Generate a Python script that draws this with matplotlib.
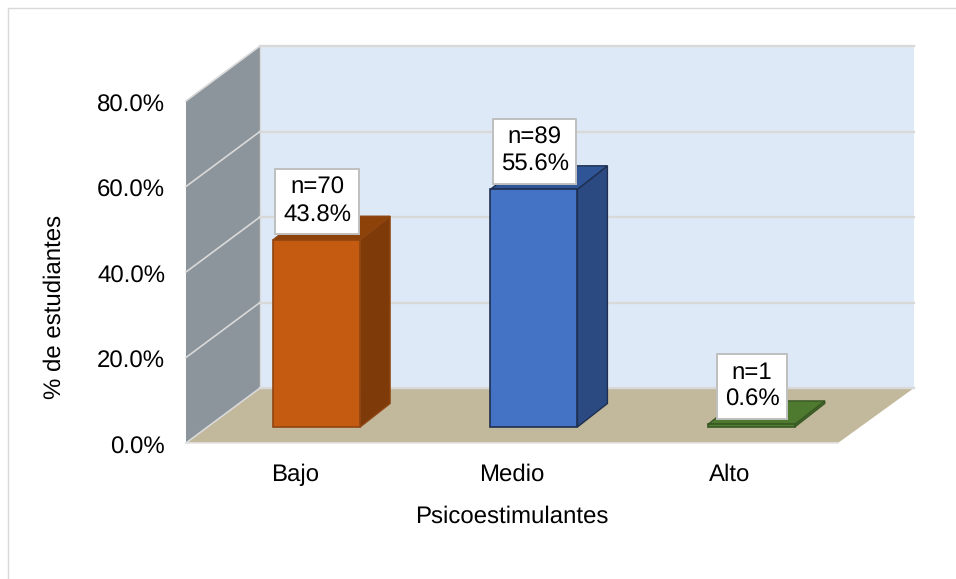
import matplotlib
matplotlib.use("Agg")
import matplotlib.pyplot as plt
from matplotlib.lines import Line2D
from matplotlib.patches import Polygon
from matplotlib.transforms import ScaledTranslation

plt.rcParams["font.family"] = ["Liberation Sans", "DejaVu Sans"]
plt.rcParams["text.hinting"] = "no_hinting"
plt.rcParams["text.hinting_factor"] = 1

categorias = ["Bajo", "Medio", "Alto"]
porcentajes = [43.8, 55.6, 0.6]
conteos = [70, 89, 1]
ticks_y = [0, 20, 40, 60, 80]

W, H = 956, 579
FS = 17

# colores: frente, lateral, tapa, borde
colores = [
    ("#C55A11", "#7F3A0A", "#8C4209", "#8F4510"),
    ("#4472C4", "#2B4A82", "#2F5597", "#1F2F4F"),
    ("#548235", "#4A7330", "#4E7A30", "#385723"),
]

fig = plt.figure(figsize=(W / 100, H / 100), dpi=100)
ax = fig.add_axes([186 / W, 1 - 443 / H, 652 / W, 342 / H])
ax.set_xlim(-0.5, 2.5)
ax.set_ylim(0, 80)
ax.patch.set_visible(False)
for s in ax.spines.values():
    s.set_visible(False)

# profundidad del grafico en unidades de datos
prof_x = 74 / (652 / 3)
prof_xd = 76 / (652 / 3)
prof_y = 55 / (342 / 80)
# posicion y fondo de las barras dentro del piso
bar_x = 0.101
bar_y = 3.74
ancho = 0.40
bar_dx = 0.138
bar_dy = 5.5

x0, x1 = -0.5, 2.5

# pared del fondo, pared lateral y piso
ax.add_patch(Polygon([(x0 + prof_x, prof_y), (x1 + prof_xd, prof_y), (x1 + prof_xd, 80 + prof_y), (x0 + prof_x, 80 + prof_y)],
                     closed=True, fc="#DEE9F7", ec="none", clip_on=False, zorder=1))
ax.add_patch(Polygon([(x0, 0), (x0 + prof_x, prof_y), (x0 + prof_x, 80 + prof_y), (x0, 80)],
                     closed=True, fc="#8C959C", ec="none", clip_on=False, zorder=1))
ax.add_patch(Polygon([(x0, 0), (x1, 0), (x1 + prof_xd, prof_y), (x0 + prof_x, prof_y)],
                     closed=True, fc="#C2B89B", ec="none", clip_on=False, zorder=1))

# lineas de division
for t in ticks_y:
    ax.plot([x0, x0 + prof_x], [t, t + prof_y], color="#D9D9D9", lw=1.2, clip_on=False, zorder=2)
    ax.plot([x0 + prof_x, x1 + prof_xd], [t + prof_y, t + prof_y], color="#D9D9D9", lw=1.7, clip_on=False, zorder=2)
ax.plot([x0 + prof_x, x0 + prof_x], [prof_y, 80 + prof_y], color="#D9D9D9", lw=1.0, clip_on=False, zorder=2)
ax.plot([x0, x1], [0, 0], color="#E4E4E4", lw=1.2, clip_on=False, zorder=2)

# barras
for i, v in enumerate(porcentajes):
    frente, lateral, tapa, borde = colores[i]
    cx = i + bar_x
    izq, der = cx - ancho / 2, cx + ancho / 2
    ax.bar(cx, v, width=ancho, bottom=bar_y, color=frente, edgecolor=borde, linewidth=1.2, zorder=4, clip_on=False)
    ax.add_patch(Polygon([(der, bar_y), (der + bar_dx, bar_y + bar_dy), (der + bar_dx, bar_y + v + bar_dy), (der, bar_y + v)],
                         closed=True, fc=lateral, ec=borde, lw=1, clip_on=False, zorder=3))
    ax.add_patch(Polygon([(izq, bar_y + v), (der, bar_y + v), (der + bar_dx, bar_y + v + bar_dy), (izq + bar_dx, bar_y + v + bar_dy)],
                         closed=True, fc=tapa, ec=borde, lw=1, clip_on=False, zorder=3))
    ax.annotate("n=%d\n%.1f%%" % (conteos[i], v), xy=(cx, bar_y + v), xytext=(0.5, 27.5), textcoords="offset points",
                ha="center", va="center", fontsize=FS, color="black", zorder=6, linespacing=1.28,
                bbox=dict(boxstyle="square,pad=0.33", fc="white", ec="#BFBFBF", lw=1.4))

# ejes
ax.set_xticks(range(len(categorias)))
ax.set_xticklabels(categorias, fontsize=FS)
ax.set_yticks(ticks_y)
ax.set_yticklabels(["%.1f%%" % t for t in ticks_y], fontsize=FS)
ax.tick_params(axis="both", length=0)
ax.tick_params(axis="x", pad=15)
ax.tick_params(axis="y", pad=15)
# las etiquetas de y van un poco mas abajo que la linea
for lab in ax.get_yticklabels():
    lab.set_transform(lab.get_transform() + ScaledTranslation(0, -2 / 100, fig.dpi_scale_trans))
ax.set_xlabel("Psicoestimulantes", fontsize=FS)
ax.set_ylabel("% de estudiantes", fontsize=FS)
ax.xaxis.set_label_coords(326 / 652, -62 / 342)
ax.yaxis.set_label_coords(-120 / 652, 136 / 342)

# marco exterior del grafico
fig.add_artist(Line2D([8 / W, 8 / W, 1], [0, 1 - 8 / H, 1 - 8 / H], color="#D9D9D9", lw=1))

fig.savefig("out.png", dpi=100)
